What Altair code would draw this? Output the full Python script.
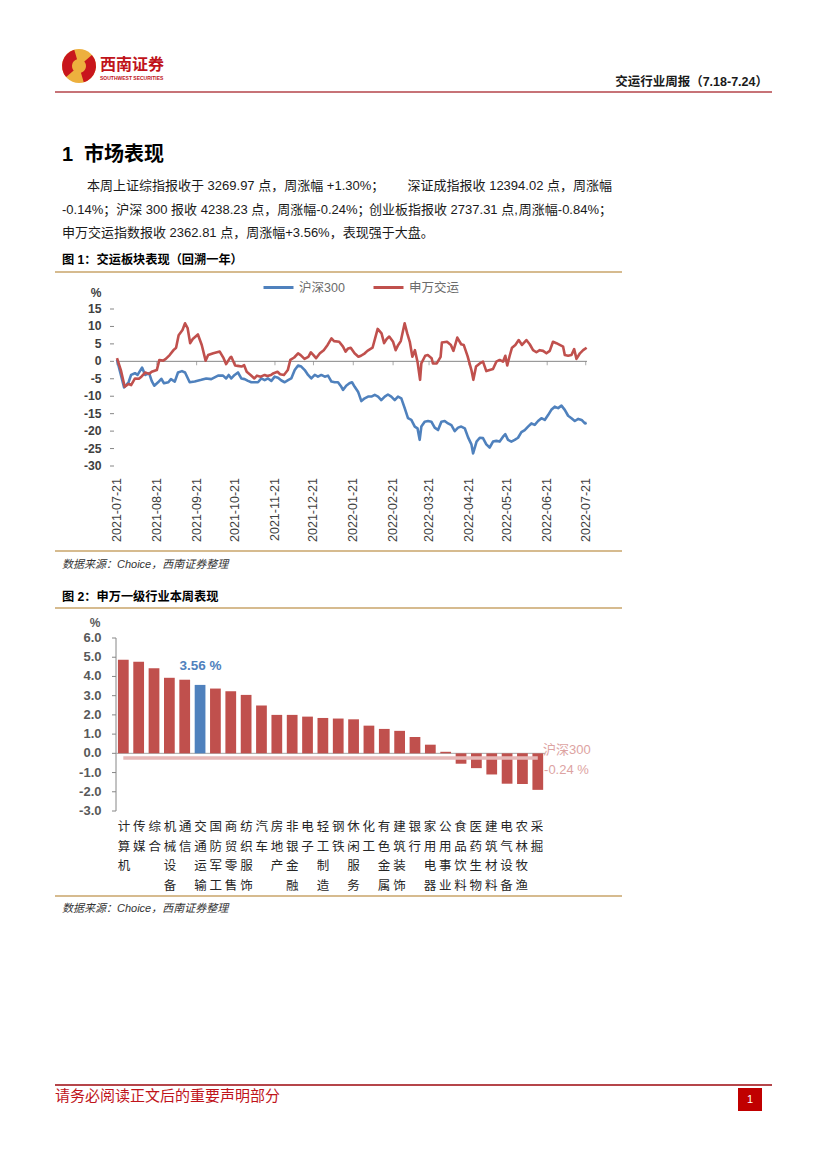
import altair as alt
import pandas as pd

# ---------------- Chart 1 data: days since 2021-07-21, cumulative change (%) ----------------
hs300_days = [0, 5.5, 9, 11, 14, 16, 19.5, 22, 25, 27, 29, 32, 34.5, 36.6, 40, 42, 45, 47.5, 50.6, 53,
              56.6, 60.5, 65.7, 69.5, 73.4, 78.7, 82.6, 85, 87, 89, 91.6, 94.2, 96.8, 99.4, 102, 104.6,
              107.2, 109.8, 112.4, 115, 117.6, 120.2, 122.8, 125.4, 128, 130.6, 133.2, 135.7, 138.4, 141,
              143.5, 146.2, 148.8, 151.3, 154, 156.5, 159.1, 161.8, 164.3, 167, 169.5, 172.1, 174.7, 176,
              178.5, 181, 183, 185.1, 187.7, 190.3, 192.9, 195.5, 198.1, 200.7, 203.3, 205.8, 208.5, 211,
              213.6, 216.3, 218.8, 221.4, 224.1, 226.6, 229.2, 231.9, 234, 235.7, 237, 239.6, 242.2, 244.8,
              247.4, 250, 252.6, 255.2, 257.8, 260.4, 263, 265.6, 268.1, 270.8, 273.4, 276, 277.3, 280,
              282.5, 285, 287.6, 290.2, 292.8, 295.4, 298, 300.6, 302.4, 304.5, 307.1, 309.7, 312.3, 314.9,
              317.5, 320.1, 322.7, 325.3, 327.9, 330.5, 333.1, 335.7, 338.2, 340.9, 343.5, 346.1, 348.7,
              351.3, 353.9, 356.5, 359.2, 361.8, 364.4, 365.7]
hs300_vals = [0.5, -7.5, -6.0, -3.9, -3.4, -3.9, -1.8, -3.9, -3.4, -5.6, -7.0, -6.0, -5.0, -6.3, -6.0, -5.1,
              -5.8, -3.2, -2.8, -3.2, -6.0, -5.8, -5.3, -4.9, -5.1, -4.1, -4.1, -4.9, -3.9, -4.9, -3.9, -3.2,
              -4.9, -5.1, -5.6, -6.0, -6.0, -6.0, -4.9, -5.4, -4.9, -5.6, -4.4, -4.7, -5.5, -6.0, -5.4, -4.9,
              -2.5, -1.2, -1.5, -2.5, -3.9, -4.9, -3.9, -4.4, -3.9, -4.4, -4.1, -5.8, -6.0, -6.0, -7.3, -8.2,
              -7.0, -6.3, -6.0, -7.3, -8.7, -11.4, -10.6, -10.1, -10.1, -9.6, -10.1, -11.1, -10.1, -9.5,
              -10.1, -11.1, -10.1, -10.6, -13.5, -16.3, -16.8, -18.7, -19.2, -22.5, -18.7, -17.3, -17.1,
              -17.3, -19.0, -19.7, -17.3, -17.1, -17.8, -18.3, -20.0, -19.0, -18.7, -19.2, -21.8, -23.8,
              -26.4, -23.0, -21.9, -22.0, -23.8, -24.7, -23.0, -22.8, -23.0, -21.6, -20.9, -22.5, -23.0,
              -22.5, -21.9, -20.3, -19.7, -18.7, -17.8, -18.2, -17.1, -16.3, -16.8, -15.4, -13.9, -13.0,
              -13.4, -12.7, -13.9, -15.6, -16.3, -17.1, -16.5, -16.8, -17.8, -17.6]

jy_days = [0, 3, 6, 9, 11, 14, 17, 19, 22, 25, 27, 31, 33, 36, 38, 41, 44, 46, 48, 51, 53, 55, 57, 59, 63,
           66, 69, 71, 75, 80, 83, 85, 88, 89, 92, 94, 97, 99, 101, 104, 107, 109, 112, 115, 117, 120, 122,
           125, 127, 130, 133, 135, 138, 141, 143, 146, 149, 151, 153, 155, 158, 161, 164, 167, 169, 173,
           176, 178, 180, 182, 185, 188, 190, 193, 195, 199, 203, 206, 208, 210, 212, 215, 217, 219, 221,
           224, 226, 228, 230, 232, 234, 236, 237, 240, 242, 245, 246, 249, 252, 253, 257, 260, 262, 265,
           268, 270, 273, 276, 277.5, 279.6, 282.5, 285, 287.6, 290.2, 292.8, 295.4, 298, 300.6, 302.4,
           303.9, 305.8, 307.6, 310.2, 312.8, 315.4, 318.8, 321.4, 324, 326.6, 329.2, 331.8, 334.4, 337,
           339.5, 342.2, 344.8, 347.4, 348.7, 351.3, 353.9, 356, 357.8, 360.5, 363, 365.7]
jy_vals = [0.9, -2.5, -7.3, -6.5, -6.8, -4.9, -5.0, -4.4, -3.2, -3.6, -3.0, -2.5, 0.4, 0.2, 0.7, 1.8, 3.2,
           3.9, 7.5, 9.0, 10.9, 9.5, 5.2, 6.4, 7.7, 4.7, 0.2, 1.8, 2.3, 2.8, 0.9, -0.8, 1.0, 1.3, -1.2, -1.3,
           -1.5, -1.1, -3.0, -3.9, -4.9, -4.1, -4.4, -3.9, -4.2, -3.9, -3.4, -3.0, -3.7, -3.9, -2.5, 0.4,
           1.1, 2.3, 1.8, 0.7, 1.3, 2.6, 1.8, 0.9, 2.3, 3.2, 4.7, 6.6, 5.8, 5.6, 4.2, 2.8, 3.7, 3.9, 2.3,
           1.3, 1.6, 2.3, 3.0, 3.9, 9.3, 8.0, 5.2, 6.4, 7.1, 5.6, 3.2, 4.7, 5.8, 10.9, 8.0, 5.6, 1.3, 3.2,
           -0.1, -5.3, -0.6, 1.6, 1.8, 0.9, -0.6, -0.6, 1.3, 5.4, 5.6, 4.7, 3.0, 6.8, 4.9, 4.7, 1.5, -2.5,
           -5.3, -1.5, -0.6, -0.1, -2.8, -2.5, -2.2, -0.1, 0.4, -0.1, 1.6, -1.2, 1.6, 3.9, 4.7, 6.1, 4.7,
           6.1, 4.9, 3.2, 2.6, 3.2, 3.0, 2.3, 3.0, 5.6, 5.2, 4.7, 4.2, 1.8, 1.6, 1.8, 3.5, 0.7, 2.3, 3.2, 3.9]

series_names = ["沪深300", "申万交运"]
date_labels = ["2021-07-21", "2021-08-21", "2021-09-21", "2021-10-21", "2021-11-21", "2021-12-21",
               "2022-01-21", "2022-02-21", "2022-03-21", "2022-04-21", "2022-05-21", "2022-06-21",
               "2022-07-21"]
y1_ticks = [15, 10, 5, 0, -5, -10, -15, -20, -25, -30]

# ---------------- Chart 2 data ----------------
industries = ["计算机", "传媒", "综合", "机械设备", "通信", "交通运输", "国防军工", "商贸零售", "纺织服饰",
              "汽车", "房地产", "非银金融", "电子", "轻工制造", "钢铁", "休闲服务", "化工", "有色金属",
              "建筑装饰", "银行", "家用电器", "公用事业", "食品饮料", "医药生物", "建筑材料", "电气设备",
              "农林牧渔", "采掘"]
weekly_pct = [4.87, 4.77, 4.43, 3.93, 3.83, 3.56, 3.37, 3.23, 3.04, 2.49, 2.00, 2.00, 1.91, 1.84, 1.81,
              1.77, 1.44, 1.27, 1.17, 0.85, 0.45, 0.08, -0.54, -0.77, -1.10, -1.58, -1.59, -1.90]
highlight = "交通运输"
hs300_week = -0.24
y2_ticks = [6, 5, 4, 3, 2, 1, 0, -1, -2, -3]

# ---------------- styling ----------------
BLUE = "#4F81BD"
RED = "#C0504D"
PINK = "#E6B9B8"
PINK_TXT = "#DDA3A2"
TAN = "#C8A46A"
BRAND = "#C0141B"
FONT = "Liberation Sans, Noto Sans CJK SC"
CJK = "Noto Sans CJK SC"


def P(v):
    """page pixel -> chart pixel (page has an 8px margin)"""
    return v - 8


def txt(s, x, y, **kw):
    base = dict(font=FONT, fontSize=12, color="#000000", align="left", baseline="middle")
    base.update(kw)
    return alt.Chart(pd.DataFrame({"t": [s]})).mark_text(**base).encode(
        x=alt.value(P(x)), y=alt.value(P(y)), text="t:N")


def hline(x0, x1, y, color, width):
    return alt.Chart(pd.DataFrame({"a": [0]})).mark_rule(color=color, strokeWidth=width).encode(
        x=alt.value(P(x0)), x2=alt.value(P(x1)), y=alt.value(P(y)))


layers = []

# ---------------- page header ----------------
logo_df = pd.DataFrame({"a": [0]})
layers.append(alt.Chart(logo_df).mark_arc(color="#EDB03E", radius=17, theta=0, theta2=6.2832).encode(
    x=alt.value(P(79)), y=alt.value(P(66))))
layers.append(alt.Chart(logo_df).mark_arc(color="#C8161D", radius=17, radius2=7, theta=4.0, theta2=6.0).encode(
    x=alt.value(P(79)), y=alt.value(P(66))))
layers.append(alt.Chart(logo_df).mark_arc(color="#C8161D", radius=17, radius2=7, theta=0.86, theta2=2.86).encode(
    x=alt.value(P(79)), y=alt.value(P(66))))
layers.append(txt("西南证券", 100, 65, font=CJK, fontSize=16, fontWeight="bold", color=BRAND))
layers.append(txt("SOUTHWEST SECURITIES", 100, 77.5, fontSize=5, fontWeight="bold", color=BRAND))
layers.append(txt("交运行业周报（7.18-7.24）", 768, 82, align="right", fontSize=12.5, fontWeight="bold",
                  color="#1a1a1a"))
layers.append(hline(55, 772, 92, "#B5454A", 1.5))

# ---------------- section text ----------------
layers.append(txt("1", 62, 155, fontSize=20, fontWeight="bold"))
layers.append(txt("市场表现", 84, 155, font=CJK, fontSize=20, fontWeight="bold"))
para = [
    ("本周上证综指报收于 3269.97 点，周涨幅 +1.30%；", 87, 186, "left"),
    ("深证成指报收 12394.02 点，周涨幅", 612, 186, "right"),
    ("-0.14%；沪深 300 报收 4238.23 点，周涨幅-0.24%；", 62, 210, "left"),
    ("创业板指报收 2737.31 点,", 369, 210, "left"),
    ("周涨幅-0.84%；", 612, 210, "right"),
    ("申万交运指数报收 2362.81 点，周涨幅+3.56%，表现强于大盘。", 62, 233, "left"),
]
for s, x, y, a in para:
    layers.append(txt(s, x, y, fontSize=13, color="#1a1a1a", align=a))

layers.append(txt("图 1：交运板块表现（回溯一年）", 62, 260, fontSize=12.2, fontWeight="bold"))
layers.append(hline(55, 622, 272, TAN, 1.5))

# ---------------- chart 1 ----------------
X1 = alt.Scale(domain=[0, 366], range=[P(117), P(587)], nice=False, zero=False)
Y1 = alt.Scale(domain=[-30, 15], range=[P(466), P(309)], nice=False, zero=False)

start = pd.Timestamp("2021-07-21")
lab_days = [(pd.Timestamp(d) - start).days for d in date_labels]

zero1 = pd.DataFrame({"d0": [0], "d1": [366], "v": [0]})
layers.append(alt.Chart(zero1).mark_rule(color="#868686", strokeWidth=1).encode(
    x=alt.X("d0:Q", scale=X1, axis=None), x2="d1:Q", y=alt.Y("v:Q", scale=Y1, axis=None)))

tick1 = pd.DataFrame({"day": lab_days, "v": [0] * len(lab_days), "lab": date_labels})
layers.append(alt.Chart(tick1).mark_tick(color="#868686", thickness=1, size=4, yOffset=2,
                                          orient="vertical").encode(
    x=alt.X("day:Q", scale=X1, axis=None), y=alt.Y("v:Q", scale=Y1, axis=None)))

lines_df = pd.concat([
    pd.DataFrame({"day": hs300_days, "val": hs300_vals, "series": series_names[0], "o": 0}),
    pd.DataFrame({"day": jy_days, "val": jy_vals, "series": series_names[1], "o": 1}),
])
layers.append(alt.Chart(lines_df).mark_line(strokeWidth=2.6, strokeJoin="round").encode(
    x=alt.X("day:Q", scale=X1, axis=None),
    y=alt.Y("val:Q", scale=Y1, axis=None),
    order="o:Q",
    color=alt.Color("series:N", scale=alt.Scale(domain=series_names, range=[BLUE, RED]),
                    legend=alt.Legend(orient="none", legendX=P(262), legendY=P(271), direction="horizontal",
                                      title=None, symbolType="stroke", symbolSize=900,
                                      symbolStrokeWidth=3, labelFontSize=12.5, labelColor="#6b6b6b",
                                      labelFont=FONT, labelOffset=4, columnPadding=22,
                                      labelFontWeight="normal"))))

ylab1 = pd.DataFrame({"v": y1_ticks, "lab": [str(v) for v in y1_ticks]})
layers.append(alt.Chart(ylab1).mark_text(font=FONT, fontSize=12.2, fontWeight="bold", color="#404040",
                                          align="right", baseline="middle").encode(
    x=alt.value(P(101.5)), y=alt.Y("v:Q", scale=Y1, axis=None), text="lab:N"))
layers.append(alt.Chart(ylab1).mark_rule(color="#868686", strokeWidth=1).encode(
    x=alt.value(P(110)), x2=alt.value(P(114)), y=alt.Y("v:Q", scale=Y1, axis=None)))
layers.append(txt("%", 96, 293, fontSize=12, fontWeight="bold", color="#404040", align="center"))

layers.append(alt.Chart(tick1).mark_text(font=FONT, fontSize=12.5, color="#404040", angle=270,
                                          align="right", baseline="middle").encode(
    x=alt.X("day:Q", scale=X1, axis=None), y=alt.value(P(478)), text="lab:N"))

layers.append(hline(55, 622, 551, TAN, 1.5))
layers.append(txt("数据来源：Choice，西南证券整理", 62, 565, fontSize=11, fontStyle="italic", color="#333333"))

# ---------------- chart 2 ----------------
layers.append(txt("图 2：申万一级行业本周表现", 62, 597, fontSize=12.2, fontWeight="bold"))
layers.append(hline(55, 622, 608, TAN, 1.5))

X2 = alt.Scale(domain=industries, range=[P(116.4), P(544.7)], paddingInner=0.3, paddingOuter=0.1)
Y2 = alt.Scale(domain=[-3, 6], range=[P(811), P(638)], nice=False, zero=False)

axis2 = pd.DataFrame({"v0": [-3], "v1": [6]})
layers.append(alt.Chart(axis2).mark_rule(color="#868686", strokeWidth=1).encode(
    x=alt.value(P(116)), y=alt.Y("v0:Q", scale=Y2, axis=None), y2="v1:Q"))
ylab2 = pd.DataFrame({"v": y2_ticks, "lab": [f"{v:.1f}" for v in y2_ticks]})
layers.append(alt.Chart(ylab2).mark_rule(color="#868686", strokeWidth=1).encode(
    x=alt.value(P(112)), x2=alt.value(P(116)), y=alt.Y("v:Q", scale=Y2, axis=None)))
layers.append(alt.Chart(ylab2).mark_text(font=FONT, fontSize=13, fontWeight="bold", color="#595959",
                                          align="right", baseline="middle").encode(
    x=alt.value(P(101.5)), y=alt.Y("v:Q", scale=Y2, axis=None), text="lab:N"))
layers.append(txt("%", 95, 623, fontSize=12, fontWeight="bold", color="#595959", align="center"))

bars = pd.DataFrame({"ind": industries, "val": weekly_pct, "base": 0.0})
bars["col"] = [BLUE if i == highlight else RED for i in industries]
layers.append(alt.Chart(pd.DataFrame({"v": [0]})).mark_rule(color="#A6A6A6", strokeWidth=1).encode(
    x=alt.value(P(116)), x2=alt.value(P(545)), y=alt.Y("v:Q", scale=Y2, axis=None)))
layers.append(alt.Chart(bars).mark_bar().encode(
    x=alt.X("ind:N", scale=X2, axis=None, sort=industries),
    y=alt.Y("val:Q", scale=Y2, axis=None), y2="base:Q",
    color=alt.Color("col:N", scale=None)))

hs = pd.DataFrame({"a": [industries[0]], "b": [industries[-1]], "v": [hs300_week],
                   "l1": ["沪深300"], "l2": [f"{hs300_week:.2f} %"]})
layers.append(alt.Chart(hs).mark_rule(color=PINK, strokeWidth=3.5).encode(
    x=alt.X("a:N", scale=X2, axis=None), x2="b:N", y=alt.Y("v:Q", scale=Y2, axis=None)))
layers.append(alt.Chart(hs).mark_text(font=FONT, fontSize=13, color=PINK_TXT, align="left",
                                       baseline="middle", dx=6, dy=-8).encode(
    x=alt.X("b:N", scale=X2, axis=None), y=alt.Y("v:Q", scale=Y2, axis=None), text="l1:N"))
layers.append(alt.Chart(hs).mark_text(font=FONT, fontSize=13, color=PINK_TXT, align="left",
                                       baseline="middle", dx=7, dy=12).encode(
    x=alt.X("b:N", scale=X2, axis=None), y=alt.Y("v:Q", scale=Y2, axis=None), text="l2:N"))

hl = bars[bars["ind"] == highlight].copy()
hl["lab"] = [f"{v:.2f} %" for v in hl["val"]]
layers.append(alt.Chart(hl).mark_text(font=FONT, fontSize=13.5, fontWeight="bold", color=BLUE,
                                       baseline="middle", dy=-19).encode(
    x=alt.X("ind:N", scale=X2, axis=None), y=alt.Y("val:Q", scale=Y2, axis=None), text="lab:N"))

chars = pd.DataFrame([{"ind": ind, "k": k, "c": ch} for ind in industries for k, ch in enumerate(ind)])
K = alt.Scale(domain=[0, 3], range=[P(827), P(885.5)], nice=False, zero=False)
layers.append(alt.Chart(chars).mark_text(font=CJK, fontSize=12.5, color="#262626", baseline="middle").encode(
    x=alt.X("ind:N", scale=X2, axis=None), y=alt.Y("k:Q", scale=K, axis=None), text="c:N"))

layers.append(hline(55, 622, 896, TAN, 1.5))
layers.append(txt("数据来源：Choice，西南证券整理", 62, 909, fontSize=11, fontStyle="italic", color="#333333"))

# ---------------- footer ----------------
layers.append(hline(55, 772, 1085, "#B5454A", 2))
layers.append(txt("请务必阅读正文后的重要声明部分", 55, 1096, font=CJK, fontSize=15, color=BRAND))
layers.append(alt.Chart(pd.DataFrame({"a": [0]})).mark_rect(color="#C00000").encode(
    x=alt.value(P(738)), x2=alt.value(P(762)), y=alt.value(P(1088)), y2=alt.value(P(1111))))
layers.append(txt("1", 750, 1099.5, fontSize=11, color="#FFFFFF", align="center"))

chart = alt.layer(*layers).resolve_scale(x="independent", y="independent", color="independent").properties(
    width=811, height=1154, padding=0
).configure_view(stroke=None)

chart.save("out.html", embed_options={"renderer": "svg", "actions": False})
